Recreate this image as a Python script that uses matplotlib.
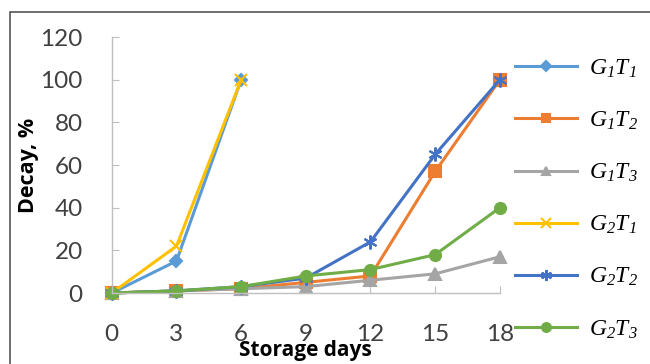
import matplotlib
matplotlib.use("Agg")
import matplotlib.pyplot as plt
from matplotlib.patches import Rectangle

days = [0, 3, 6, 9, 12, 15, 18]
g1t1 = [0, 15, 100]
g1t2 = [0, 1, 2, 5, 8, 57, 100]
g1t3 = [0, 1, 2, 3, 6, 9, 17]
g2t1 = [0, 22, 100]
g2t2 = [0, 1, 3, 7, 24, 65, 100]
g2t3 = [0, 1, 3, 8, 11, 18, 40]

labels = [r"$G_1T_1$", r"$G_1T_2$", r"$G_1T_3$",
          r"$G_2T_1$", r"$G_2T_2$", r"$G_2T_3$"]
colors = ["#5B9BD5", "#ED7D31", "#A5A5A5", "#FFC000", "#4472C4", "#70AD47"]
markers = ["D", "s", "^", "x", (6, 2, 0), "o"]
sizes = [6, 8, 8, 9, 10, 8]

plt.rcParams["mathtext.fontset"] = "custom"
plt.rcParams["mathtext.it"] = "Liberation Serif:italic"
plt.rcParams["mathtext.rm"] = "Liberation Serif:italic"

fig = plt.figure(figsize=(6.5, 3.64), dpi=100)
ax = fig.add_axes([0.172, 0.195, 0.769 - 0.172, 0.898 - 0.195])

series = [g1t1, g1t2, g1t3, g2t1, g2t2, g2t3]
for s, lab, c, m, ms in zip(series, labels, colors, markers, sizes):
    ax.plot(days[:len(s)], s, color=c, lw=2.2, marker=m, markersize=ms,
            markeredgewidth=1.5, label=lab, clip_on=False)

ax.set_xlim(0, 18)
ax.set_ylim(0, 120)
ax.set_xticks(days)
ax.set_yticks(range(0, 121, 20))
for sp in ["top", "right"]:
    ax.spines[sp].set_visible(False)
for sp in ["left", "bottom"]:
    ax.spines[sp].set_color("#BFBFBF")
    ax.spines[sp].set_linewidth(1.0)
ax.tick_params(direction="in", length=5, color="#BFBFBF", labelsize=17.5,
               labelcolor="#404040")
ax.tick_params(axis="x", pad=22)
ax.tick_params(axis="y", pad=21)
for t in ax.get_xticklabels() + ax.get_yticklabels():
    t.set_fontfamily("Lato")

ax.set_ylabel("Decay, %", fontsize=15.5, fontweight="bold", family="Open Sans",
              labelpad=1)
ax.set_xlabel("Storage days", fontsize=15, fontweight="bold", family="Open Sans",
              labelpad=-3)

leg = ax.legend(loc="upper left", bbox_to_anchor=(1.015, 0.965), frameon=False,
                fontsize=17, handlelength=2.6, handletextpad=0.55,
                labelspacing=1.18, borderaxespad=0.0, markerscale=0.8)

fig.patches.append(Rectangle((10 / 650, -0.1), 1.2, 1 - 12 / 364 + 0.1,
                             transform=fig.transFigure, fill=False,
                             edgecolor="#555555", lw=1.2))

fig.savefig("out.png", dpi=100)
